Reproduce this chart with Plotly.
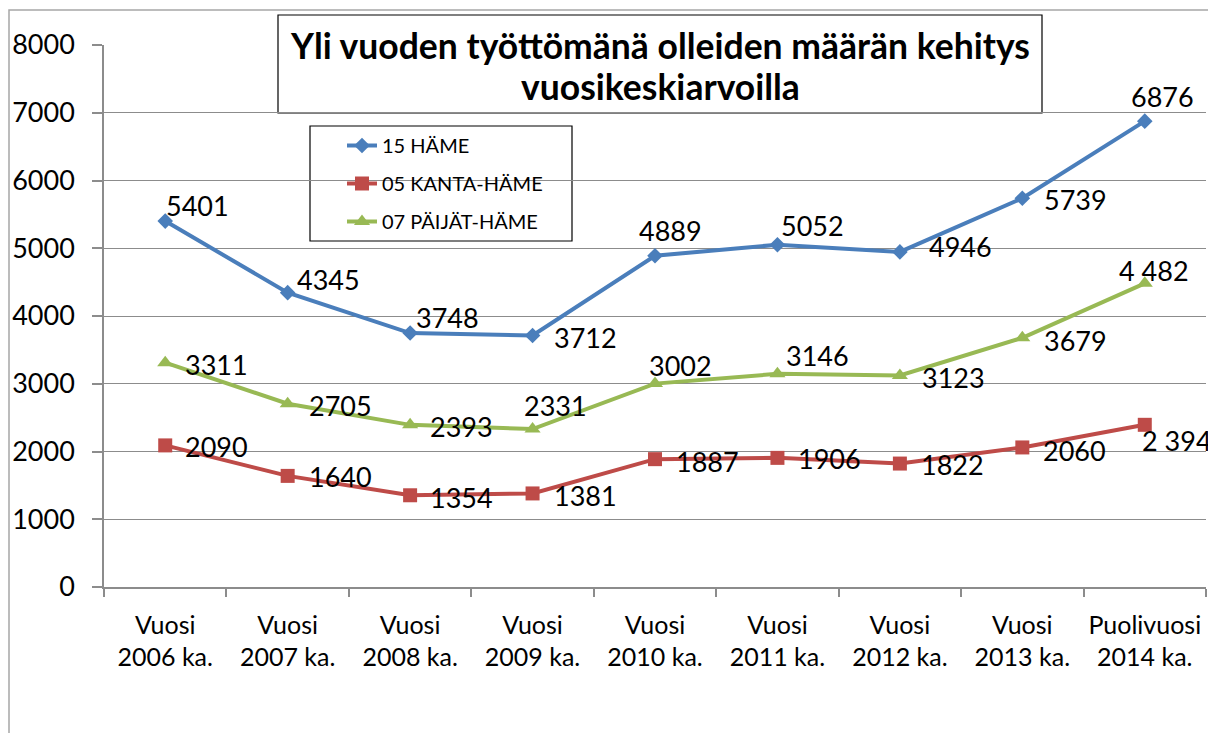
import plotly.graph_objects as go

# ---- data ----
categories = ["Vuosi<br>2006 ka.", "Vuosi<br>2007 ka.", "Vuosi<br>2008 ka.", "Vuosi<br>2009 ka.",
              "Vuosi<br>2010 ka.", "Vuosi<br>2011 ka.", "Vuosi<br>2012 ka.", "Vuosi<br>2013 ka.",
              "Puolivuosi<br>2014 ka."]
hame = [5401, 4345, 3748, 3712, 4889, 5052, 4946, 5739, 6876]
kanta_hame = [2090, 1640, 1354, 1381, 1887, 1906, 1822, 2060, 2394]
paijat_hame = [3311, 2705, 2393, 2331, 3002, 3146, 3123, 3679, 4482]
series_names = ["15 HÄME", "05 KANTA-HÄME", "07 PÄIJÄT-HÄME"]
title_lines = ["Yli vuoden työttömänä olleiden määrän kehitys", "vuosikeskiarvoilla"]
y_ticks = [0, 1000, 2000, 3000, 4000, 5000, 6000, 7000, 8000]

def fmt_last_spaced(vals):
    out = [str(v) for v in vals]
    out[-1] = f"{vals[-1]:,}".replace(",", " ")
    return out

hame_labels = [str(v) for v in hame]
kanta_labels = fmt_last_spaced(kanta_hame)
paijat_labels = fmt_last_spaced(paijat_hame)

# ---- style ----
FONT = "Lato, Carlito, Calibri, sans-serif"
colors = ["#4A7EBB", "#BE4B48", "#98B954"]
symbols = ["diamond", "square", "triangle-up"]
msizes = [12, 14, 14]
GRID = "#8C8C8C"

# label offsets (pixels: dx to label left edge, dy down to label centre)
off_hame = [(-1, -16), (7, -13), (4, -16), (19, 2), (-18, -25), (2, -19), (27, -5), (20, 1), (-16, -25)]
off_kanta = [(18, 1), (19, 1), (18, 2), (19, 2), (19, 2), (19, 1), (19, 1), (19, 3), (-5, 16)]
off_paijat = [(18, 2), (19, 2), (18, 2), (-11, -24), (-8, -18), (7, -18), (20, 2), (20, 3), (-28, -13)]

# page has an 8px body margin; screen coords are converted below
OFF = 8
W, H = 1208, 725
ML, MT = 104 - OFF, 45 - OFF
PW, PH = 1102, 542
MR = W - ML - PW
MB = H - MT - PH

def px_x(px):
    return (px - OFF - ML) / PW

def px_y(py):
    return (MT + PH - (py - OFF)) / PH

fig = go.Figure()
all_series = [hame, kanta_hame, paijat_hame]
for i, vals in enumerate(all_series):
    fig.add_trace(go.Scatter(
        x=categories, y=vals, mode="lines+markers", name=series_names[i],
        legendgroup=f"g{i}",
        line=dict(color=colors[i], width=4),
        marker=dict(symbol=symbols[i], size=msizes[i], color=colors[i]),
        hoverinfo="skip",
    ))

annotations = []
for vals, labels, offs in [(hame, hame_labels, off_hame),
                           (kanta_hame, kanta_labels, off_kanta),
                           (paijat_hame, paijat_labels, off_paijat)]:
    for c, v, t, (dx, dy) in zip(categories, vals, labels, offs):
        annotations.append(dict(
            x=c, y=v, xref="x", yref="y", text=t, showarrow=False,
            xanchor="left", yanchor="middle", xshift=dx, yshift=-dy,
            font=dict(family=FONT, size=27, color="black"),
        ))

# title (two lines)
for line, cy in zip(title_lines, [45, 87]):
    annotations.append(dict(
        x=px_x(660), y=px_y(cy), xref="paper", yref="paper", text=line, showarrow=False,
        xanchor="center", yanchor="middle",
        font=dict(family=FONT, size=35.5, color="black", weight="bold"),
    ))

shapes = [
    # outer chart border
    dict(type="rect", xref="paper", yref="paper",
         x0=px_x(9), x1=px_x(1240), y0=px_y(760), y1=px_y(10),
         line=dict(color="#A6A6A6", width=1.5), fillcolor="rgba(0,0,0,0)", layer="below"),
    # title box
    dict(type="rect", xref="paper", yref="paper",
         x0=px_x(278), x1=px_x(1042), y0=px_y(113), y1=px_y(15),
         line=dict(color="black", width=1.2), fillcolor="white", layer="between"),
    # legend box
    dict(type="rect", xref="paper", yref="paper",
         x0=px_x(310), x1=px_x(572), y0=px_y(241), y1=px_y(126),
         line=dict(color="black", width=1.2), fillcolor="white", layer="between"),
]

fig.update_layout(
    width=W, height=H,
    margin=dict(l=ML, r=MR, t=MT, b=MB, autoexpand=False),
    paper_bgcolor="white", plot_bgcolor="white",
    font=dict(family=FONT, color="black"),
    showlegend=True,
    legend=dict(
        x=px_x(342), y=px_y(126), xanchor="left", yanchor="top",
        bgcolor="rgba(0,0,0,0)", borderwidth=0,
        font=dict(family=FONT, size=20, color="black"),
        tracegroupgap=9, traceorder="grouped",
    ),
    annotations=annotations,
    shapes=shapes,
    xaxis=dict(
        type="category", range=[-0.5, 8.5], automargin=False,
        showline=True, linecolor=GRID, linewidth=1.5,
        ticks="outside", ticklen=8, tickcolor=GRID, tickwidth=1.5,
        tickson="boundaries", showgrid=False, tickangle=0,
        tickfont=dict(family=FONT, size=25, color="black"),
        ticklabelstandoff=15,
    ),
    yaxis=dict(
        range=[0, 8000], tickvals=y_ticks, automargin=False,
        showline=True, linecolor=GRID, linewidth=1.5,
        ticks="outside", ticklen=10, tickcolor=GRID, tickwidth=1.5,
        showgrid=True, gridcolor=GRID, gridwidth=1.2, zeroline=False,
        tickfont=dict(family=FONT, size=27, color="black"),
        ticklabelstandoff=12,
    ),
)

fig.write_html("out.html")
